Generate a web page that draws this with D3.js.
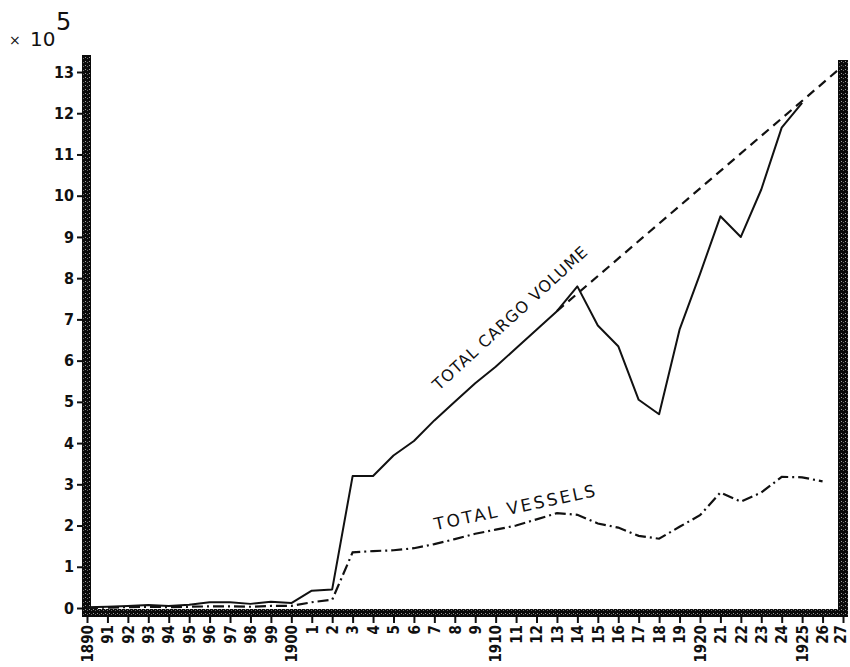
<!DOCTYPE html>
<html>
<head>
<meta charset="utf-8">
<script src="https://cdn.jsdelivr.net/npm/d3@7"></script>
<style>
  body { margin: 0; background: #fff; }
  svg { display: block; }
  .lbl { font-family: "DejaVu Sans Condensed", "DejaVu Sans", sans-serif; font-weight: bold; fill: #111; }
</style>
</head>
<body>
<div id="chart"></div>
<script>
// data (values x 10^5)
var years = d3.range(1890, 1928);
var yearLabels = ["1890","91","92","93","94","95","96","97","98","99",
  "1900","1","2","3","4","5","6","7","8","9",
  "1910","11","12","13","14","15","16","17","18","19",
  "1920","21","22","23","24","1925","26","27"];
var cargoYears = d3.range(1890, 1926);
var cargoValues = [0.02, 0.03, 0.05, 0.07, 0.05, 0.08, 0.14, 0.14, 0.10, 0.15,
  0.12, 0.42, 0.45, 3.20, 3.20, 3.70, 4.05, 4.55, 5.00, 5.45,
  5.85, 6.30, 6.75, 7.20, 7.80, 6.85, 6.35, 5.05, 4.70, 6.75,
  8.10, 9.50, 9.00, 10.15, 11.65, 12.25];
var trendYears = [1913, 1927];
var trendValues = [7.20, 13.15];
var vesselYears = d3.range(1890, 1927);
var vesselValues = [0.00, 0.01, 0.02, 0.03, 0.02, 0.03, 0.04, 0.04, 0.03, 0.05,
  0.05, 0.14, 0.20, 1.35, 1.38, 1.40, 1.45, 1.55, 1.67, 1.80,
  1.90, 2.00, 2.15, 2.30, 2.26, 2.05, 1.95, 1.75, 1.68, 1.97,
  2.25, 2.80, 2.58, 2.80, 3.18, 3.17, 3.07];
var yTicks = d3.range(0, 14);

var W = 850, H = 667;
var svg = d3.select("#chart").append("svg")
  .attr("width", W)
  .attr("height", H);

// grainy black texture for the frame bars
var defs = svg.append("defs");
var pat = defs.append("pattern")
  .attr("id", "grain")
  .attr("width", 4).attr("height", 4)
  .attr("patternUnits", "userSpaceOnUse");
pat.append("rect").attr("width", 4).attr("height", 4).attr("fill", "#0a0a0a");
pat.append("rect").attr("x", 1).attr("y", 1).attr("width", 1).attr("height", 1).attr("fill", "#9a9a9a");
pat.append("rect").attr("x", 3).attr("y", 2).attr("width", 1).attr("height", 1).attr("fill", "#6a6a6a");

var x = d3.scaleLinear().domain([1890, 1927]).range([87, 843]);
var y = d3.scaleLinear().domain([0, 13]).range([608, 72]);

// frame bars
var barL = 82, barR = 838, barB = 609;
svg.append("rect").attr("x", barL).attr("y", 55).attr("width", 9).attr("height", 617 - 55).attr("fill", "url(#grain)");
svg.append("rect").attr("x", barR).attr("y", 60).attr("width", 10).attr("height", 617 - 60).attr("fill", "url(#grain)");
svg.append("rect").attr("x", barL).attr("y", barB).attr("width", 848 - barL).attr("height", 8).attr("fill", "url(#grain)");

// y axis
var yAxis = svg.append("g")
  .attr("transform", "translate(" + barL + ",0)")
  .call(d3.axisLeft(y).tickValues(yTicks).tickSize(5).tickPadding(3).tickFormat(d3.format("d")));
yAxis.select(".domain").remove();
yAxis.selectAll("line").attr("stroke", "#111").attr("stroke-width", 2);
yAxis.selectAll("text").attr("class", "lbl").style("font-size", "16px");

// x axis
var xAxis = svg.append("g")
  .attr("transform", "translate(0,617)")
  .call(d3.axisBottom(x).tickValues(years).tickSize(6)
    .tickFormat(function(d, i){ return yearLabels[i]; }));
xAxis.select(".domain").remove();
xAxis.selectAll("line").attr("stroke", "#111").attr("stroke-width", 2);
xAxis.selectAll("text")
  .attr("class", "lbl")
  .style("font-size", "15px")
  .attr("text-anchor", "end")
  .attr("transform", "rotate(-90)")
  .attr("x", -8)
  .attr("y", function(d){ return d === 1927 ? -3 : 0; })
  .attr("dy", "0.35em");

// lines
var line = d3.line()
  .x(function(d){ return x(d[0]); })
  .y(function(d){ return y(d[1]); });

svg.append("path")
  .datum(d3.zip(trendYears, trendValues))
  .attr("d", line)
  .attr("fill", "none")
  .attr("stroke", "#111")
  .attr("stroke-width", 2.2)
  .attr("stroke-dasharray", "9,6");

svg.append("path")
  .datum(d3.zip(vesselYears, vesselValues))
  .attr("d", line)
  .attr("fill", "none")
  .attr("stroke", "#111")
  .attr("stroke-width", 2.2)
  .attr("stroke-dasharray", "11,4,2,4");

svg.append("path")
  .datum(d3.zip(cargoYears, cargoValues))
  .attr("d", line)
  .attr("fill", "none")
  .attr("stroke", "#111")
  .attr("stroke-width", 2)
  .attr("stroke-linejoin", "round");

// series labels
svg.append("text")
  .attr("class", "lbl")
  .attr("transform", "translate(514,322) rotate(-42.5)")
  .attr("text-anchor", "middle")
  .style("font-family", "DejaVu Sans, sans-serif")
  .style("font-size", "16px")
  .style("font-weight", "normal")
  .style("letter-spacing", "1px")
  .text("TOTAL CARGO VOLUME");

svg.append("text")
  .attr("class", "lbl")
  .attr("transform", "translate(517,513) rotate(-12)")
  .attr("text-anchor", "middle")
  .style("font-family", "DejaVu Sans, sans-serif")
  .style("font-size", "17px")
  .style("font-weight", "normal")
  .style("letter-spacing", "2.5px")
  .text("TOTAL VESSELS");

// unit label
var unit = svg.append("text")
  .attr("class", "lbl")
  .style("font-family", "DejaVu Sans, sans-serif")
  .style("font-weight", "normal");
unit.append("tspan").attr("x", 9).attr("y", 45).style("font-size", "14px").text("\u00d7");
unit.append("tspan").attr("x", 30).attr("y", 46).style("font-size", "20px").text("10");
unit.append("tspan").attr("x", 56).attr("y", 30).style("font-size", "24px").text("5");
</script>
</body>
</html>
